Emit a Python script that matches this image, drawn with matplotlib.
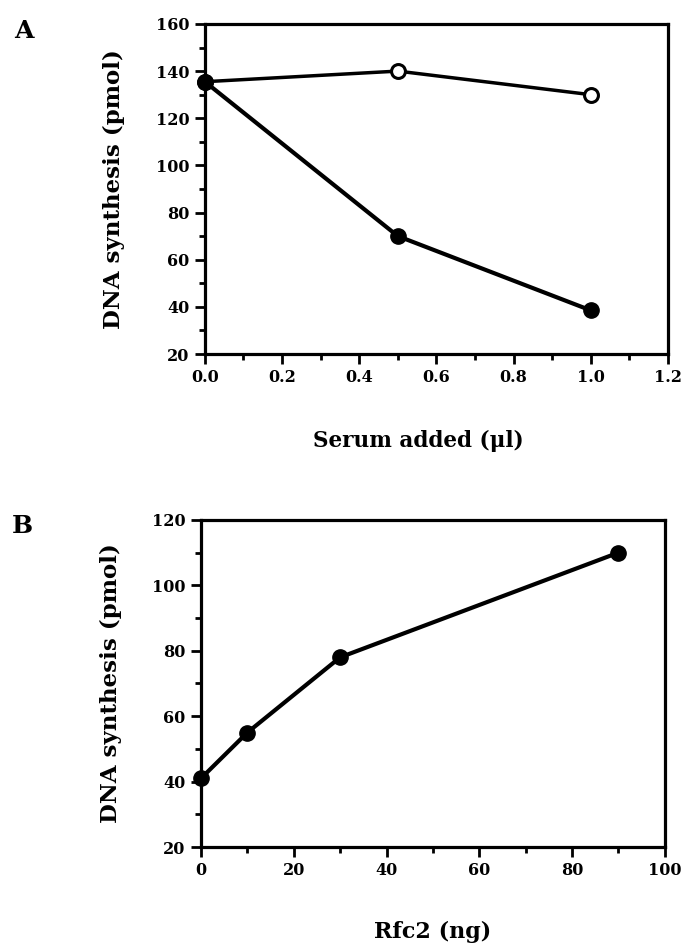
import matplotlib
matplotlib.use("Agg")
import matplotlib.pyplot as plt
from matplotlib.ticker import MultipleLocator, FormatStrFormatter

plt.rcParams['font.family'] = ['DejaVu Serif']
plt.rcParams['font.weight'] = 'bold'

# panel A data
serum_ul = [0.0, 0.5, 1.0]
synth_filled = [135.5, 70, 38.5]
synth_open = [135.5, 140, 130]

# panel B data
rfc2_ng = [0, 10, 30, 90]
synth_rfc2 = [41, 55, 78, 110]

fig = plt.figure(figsize=(6.83, 9.43), dpi=100)


def style_axes(ax, xmaj, xmin, ymaj, ymin):
    for s in ax.spines.values():
        s.set_linewidth(2.3)
    ax.xaxis.set_major_locator(MultipleLocator(xmaj))
    ax.xaxis.set_minor_locator(MultipleLocator(xmin))
    ax.yaxis.set_major_locator(MultipleLocator(ymaj))
    ax.yaxis.set_minor_locator(MultipleLocator(ymin))
    ax.tick_params(which='major', direction='out', length=7, width=2.0,
                   labelsize=11.5, pad=4)
    ax.tick_params(which='minor', direction='out', length=4, width=2.0)
    for lab in ax.get_xticklabels() + ax.get_yticklabels():
        lab.set_fontweight('bold')


# Panel A
axA = fig.add_axes([0.300, 0.6246, 0.678, 0.350])
axA.plot(serum_ul, synth_open, color='black', lw=2.5, marker='o', ms=10,
         mfc='white', mec='black', mew=2.2, zorder=3, clip_on=False)
axA.plot(serum_ul, synth_filled, color='black', lw=3, marker='o', ms=11,
         mfc='black', mec='black', zorder=4, clip_on=False)
axA.set_xlim(0, 1.2)
axA.set_ylim(20, 160)
style_axes(axA, 0.2, 0.1, 20, 10)
axA.xaxis.set_major_formatter(FormatStrFormatter('%.1f'))
axA.set_xlabel('Serum added (\u03bcl)', fontsize=15.5, fontweight='bold', labelpad=30)
axA.xaxis.set_label_coords(0.46, -0.23)
axA.set_ylabel('DNA synthesis (pmol)', fontsize=16.5, fontweight='bold', labelpad=22)
fig.text(0.020, 0.980, 'A', fontsize=18, fontweight='bold', va='top')

# Panel B
axB = fig.add_axes([0.2943, 0.1018, 0.679, 0.3468])
axB.plot(rfc2_ng, synth_rfc2, color='black', lw=3, marker='o', ms=11,
         mfc='black', mec='black', zorder=4, clip_on=False)
axB.set_xlim(0, 100)
axB.set_ylim(20, 120)
style_axes(axB, 20, 10, 20, 10)
axB.set_xlabel('Rfc2 (ng)', fontsize=16, fontweight='bold', labelpad=30)
axB.set_ylabel('DNA synthesis (pmol)', fontsize=16.5, fontweight='bold', labelpad=22)
fig.text(0.018, 0.455, 'B', fontsize=18, fontweight='bold', va='top')

fig.savefig('out.png', dpi=100)
